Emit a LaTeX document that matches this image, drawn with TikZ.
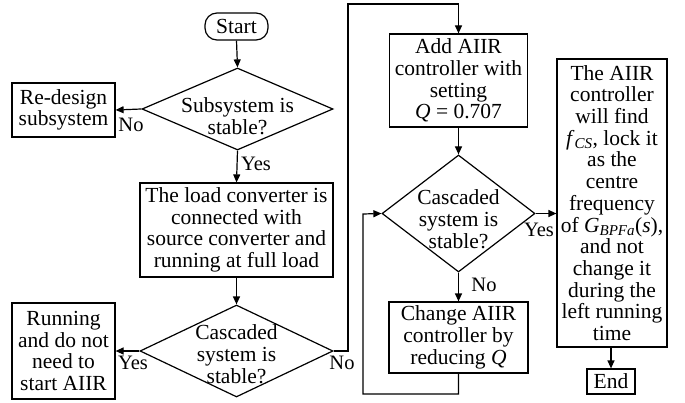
\documentclass[tikz,border=0pt]{standalone}
\usepackage{fontspec}
\setmainfont{Liberation Serif}
\usetikzlibrary{arrows.meta,shapes.geometric,calc}
\begin{document}
\begin{tikzpicture}[x=1pt,y=-1pt,
  every node/.style={font=\fontsize{21.5}{21.7}\selectfont, align=center, inner sep=0pt},
  box/.style={draw, line width=1.2pt, rectangle},
  dia/.style={draw, line width=1.2pt, diamond, aspect=1},
  lbl/.style={font=\fontsize{20.5}{21}\selectfont},
  con/.style={line width=1.2pt},
  arr/.style={con, -{Triangle[length=8pt,width=7pt]}}]
\useasboundingbox (0,0) rectangle (685,403);
% nodes
\node[box, rounded corners=12pt, minimum width=63pt, minimum height=27pt] (start) at (236.5,26.5) {Start};
\node[dia, minimum width=191pt, minimum height=82pt] (d1) at (237.5,109) {};
\node (d1t) at (237.5,116) {Subsystem is\\stable?};
\node[box, minimum width=103pt, minimum height=54pt] (redesign) at (63.5,110) {Re-design\\subsystem};
\node[box, minimum width=193pt, minimum height=94pt] (load) at (236.5,230) {The load converter is\\connected with\\source converter and\\running at full load};
\node[dia, minimum width=193pt, minimum height=92pt] (d2) at (236.5,351) {};
\node (d2t) at (236.5,354) {Cascaded\\system is\\stable?};
\node[box, minimum width=103pt, minimum height=96pt] (run) at (63.5,351) {Running\\and do not\\need to\\start AIIR};
\node[box, minimum width=138pt, minimum height=93pt] (add) at (458.5,80.5) {Add AIIR\\controller with\\setting\\\textit{Q} = 0.707};
\node[dia, minimum width=153pt, minimum height=117pt] (d3) at (458.5,213.5) {};
\node (d3t) at (458.5,219) {Cascaded\\system is\\stable?};
\node[box, minimum width=139pt, minimum height=71pt] (change) at (458.5,337.5) {Change AIIR\\controller by\\reducing \textit{Q}};
\node[box, minimum width=110pt, minimum height=288pt] (right) at (612,203) {The AIIR\\controller\\will find\\\textit{f}\textsubscript{\textit{CS}}, lock it\\as the\\centre\\frequency\\of \textit{G}\textsubscript{\textit{BPFa}}(\textit{s}),\\and not\\change it\\during the\\left running\\time};
\node[box, minimum width=48pt, minimum height=25pt] (end) at (611,381.5) {End};
% labels
\node[lbl] (l1) at (131,125) {No};
\node[lbl] (l2) at (256,164) {Yes};
\node[lbl] (l3) at (133,363) {Yes};
\node[lbl] (l4) at (342,363) {No};
\node[lbl] (l5) at (484,285) {No};
\node[lbl] (l6) at (539,230) {Yes};
% coordinates
\coordinate (c1) at (348,4);
\coordinate (c2) at (458.5,394);
\coordinate (c3) at (363,214);
% connectors
\draw[arr] (start.south) -- (d1.north);
\draw[arr] (d1.west) -- (redesign.east);
\draw[arr] (d1.south) -- (load.north);
\draw[arr] (load.south) -- (d2.north);
\draw[arr] (d2.west) -- (run.east);
\draw[arr] (d2.east) -- (c1 |- d2.east) -- (c1) -| (add.north);
\draw[arr] (add.south) -- (d3.north);
\draw[arr] (d3.south) -- (change.north);
\draw[arr] (change.south) -- (c2) -| (c3) -- (d3.west);
\draw[arr] (d3.east) -- (right.west |- d3.east);
\draw[arr] (end.north |- right.south) -- (end.north);
\end{tikzpicture}
\end{document}
